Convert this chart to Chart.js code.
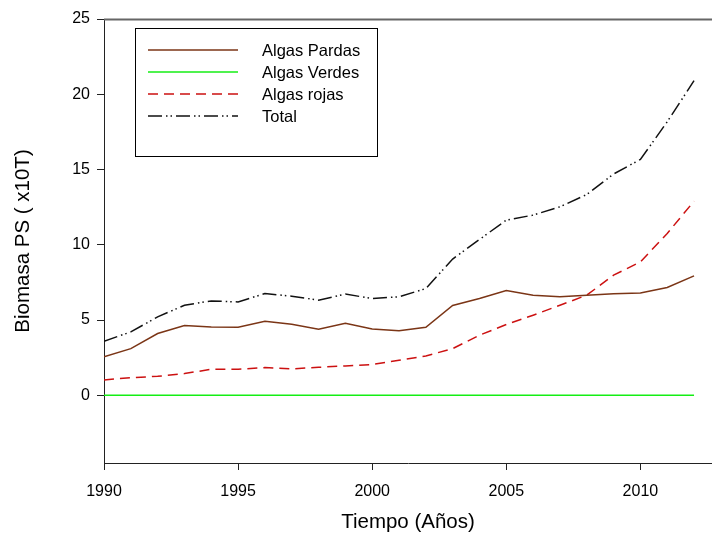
<!DOCTYPE html>
<html>
<head>
<meta charset="utf-8">
<script src="https://cdn.jsdelivr.net/npm/chart.js@4/dist/chart.umd.min.js"></script>
<style>
  html, body { margin: 0; padding: 0; background: #fff; }
  #wrap { width: 712px; height: 535px; }
</style>
</head>
<body>
<div id="wrap"><canvas id="c" width="712" height="535"></canvas></div>
<script>
// Biomasa de algas (peso seco, x10 toneladas) por año
const years   = [1990,1991,1992,1993,1994,1995,1996,1997,1998,1999,2000,2001,2002,2003,2004,2005,2006,2007,2008,2009,2010,2011,2012];
const pardas  = [2.55,3.10,4.10,4.63,4.54,4.52,4.92,4.72,4.39,4.79,4.41,4.28,4.52,5.97,6.43,6.96,6.65,6.54,6.65,6.74,6.80,7.16,7.93];
const verdes  = [0,0,0,0,0,0,0,0,0,0,0,0,0,0,0,0,0,0,0,0,0,0,0];
const rojas   = [1.02,1.17,1.26,1.44,1.73,1.73,1.84,1.75,1.86,1.95,2.04,2.33,2.61,3.10,3.99,4.70,5.32,5.98,6.65,7.98,8.86,10.75,12.90];
const total   = [3.59,4.21,5.21,5.98,6.27,6.20,6.76,6.58,6.32,6.72,6.43,6.54,7.09,9.05,10.35,11.64,11.97,12.52,13.34,14.70,15.67,18.17,20.90];
const seriesNames = ['Algas Pardas', 'Algas Verdes', 'Algas rojas', 'Total'];
const yTickValues = [0, 5, 10, 15, 20, 25];
const xTickValues = [1990, 1995, 2000, 2005, 2010];

const FONT = '"Liberation Sans", Arial, sans-serif';
const toPoints = vals => years.map((yr, i) => ({ x: yr, y: vals[i] }));

const styles = [
  { color: '#7b3516', dash: [] },
  { color: '#14ee14', dash: [] },
  { color: '#cc1111', dash: [10, 6] },
  { color: '#111111', dash: [14, 4, 1.5, 3, 1.5, 4] }
];
const allSeries = [pardas, verdes, rojas, total];

// Legend drawn as a framed box inside the plot area
const boxLegend = {
  id: 'boxLegend',
  afterDraw(chart) {
    const ctx = chart.ctx;
    ctx.save();
    ctx.strokeStyle = '#000';
    ctx.lineWidth = 1;
    ctx.strokeRect(135.5, 28.5, 242, 128);
    chart.data.datasets.forEach((ds, i) => {
      const y = 50 + i * 22;
      ctx.beginPath();
      ctx.setLineDash(ds.borderDash || []);
      ctx.strokeStyle = ds.borderColor;
      ctx.lineWidth = ds.borderWidth;
      ctx.moveTo(148, y);
      ctx.lineTo(238, y);
      ctx.stroke();
      ctx.setLineDash([]);
      ctx.fillStyle = '#000';
      ctx.font = '16.5px ' + FONT;
      ctx.textBaseline = 'middle';
      ctx.textAlign = 'left';
      ctx.fillText(ds.label, 262, y + 1);
    });
    ctx.restore();
  }
};

// Upper frame line of the plot area
const topFrame = {
  id: 'topFrame',
  afterDraw(chart) {
    const { ctx, chartArea } = chart;
    ctx.save();
    ctx.strokeStyle = '#666';
    ctx.lineWidth = 2;
    ctx.beginPath();
    ctx.moveTo(chartArea.left, chartArea.top + 0.5);
    ctx.lineTo(chartArea.right, chartArea.top + 0.5);
    ctx.stroke();
    ctx.restore();
  }
};

new Chart(document.getElementById('c'), {
  type: 'line',
  data: {
    datasets: allSeries.map((vals, i) => ({
      label: seriesNames[i],
      data: toPoints(vals),
      borderColor: styles[i].color,
      borderDash: styles[i].dash,
      borderWidth: 1.5,
      pointRadius: 0,
      tension: 0,
      fill: false
    }))
  },
  options: {
    responsive: false,
    devicePixelRatio: 1,
    animation: false,
    layout: { padding: { top: 19, left: 0, right: 0, bottom: 0 } },
    plugins: { legend: { display: false }, tooltip: { enabled: false } },
    scales: {
      x: {
        type: 'linear',
        min: 1990,
        max: 2012.67,
        afterBuildTicks: s => { s.ticks = xTickValues.map(v => ({ value: v })); },
        afterFit: s => { s.height = 72; },
        ticks: {
          callback: v => String(v),
          font: { family: FONT, size: 16 },
          color: '#000',
          padding: 12,
          maxRotation: 0,
          autoSkip: false
        },
        grid: { drawOnChartArea: false, drawTicks: true, tickLength: 7, tickColor: '#222', tickWidth: 1 },
        border: { display: true, color: '#222', width: 1 },
        title: {
          display: true,
          text: 'Tiempo (Años)',
          font: { family: FONT, size: 20.5 },
          color: '#000',
          padding: { top: 0, bottom: 0 }
        }
      },
      y: {
        type: 'linear',
        min: -4.5,
        max: 25,
        afterBuildTicks: s => { s.ticks = yTickValues.map(v => ({ value: v })); },
        afterFit: s => { s.width = 104; },
        ticks: {
          callback: v => String(v),
          font: { family: FONT, size: 16 },
          color: '#000',
          padding: 7,
          autoSkip: false
        },
        grid: { drawOnChartArea: false, drawTicks: true, tickLength: 7, tickColor: '#222', tickWidth: 1 },
        border: { display: true, color: '#222', width: 1 },
        title: {
          display: true,
          text: 'Biomasa PS ( x10T)',
          font: { family: FONT, size: 20.5 },
          color: '#000',
          padding: { top: 11, bottom: 0 }
        }
      }
    }
  },
  plugins: [boxLegend, topFrame]
});
</script>
</body>
</html>
